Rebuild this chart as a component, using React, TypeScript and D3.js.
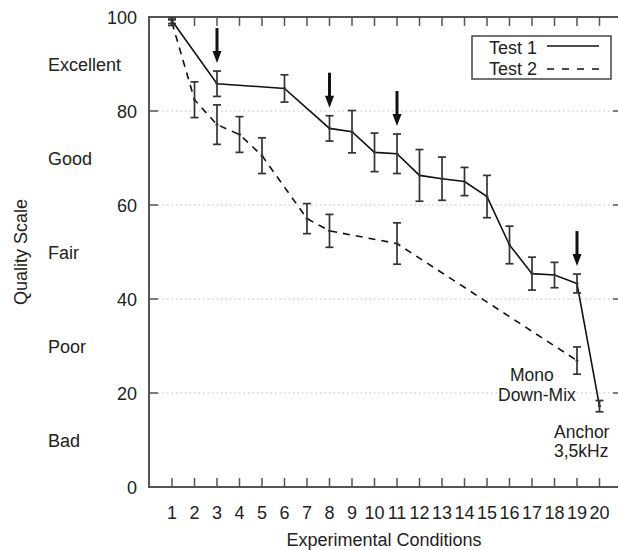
import React from "react";
import * as d3 from "d3";

// Mean quality scores with error bar half-widths per experimental condition
const test1Conditions = [1, 3, 6, 8, 9, 10, 11, 12, 13, 14, 15, 16, 17, 18, 19, 20];
const test1Means = [99.2, 85.8, 84.8, 76.3, 75.6, 71.2, 70.9, 66.3, 65.6, 65.0, 61.8, 51.5, 45.4, 45.1, 43.3, 17.2];
const test1Errors = [0.6, 2.7, 2.9, 2.7, 4.5, 4.1, 4.2, 5.5, 4.6, 3.0, 4.5, 4.0, 3.5, 2.7, 2.0, 1.2];

const test2Conditions = [1, 2, 3, 4, 5, 7, 8, 11, 19];
const test2Means = [98.8, 82.4, 77.1, 75.0, 70.5, 57.1, 54.5, 51.8, 26.9];
const test2Errors = [0.6, 3.8, 4.2, 3.8, 3.8, 3.2, 3.5, 4.4, 2.9];

// Conditions highlighted with an arrow above the Test 1 result
const arrowConditions = [3, 8, 11, 19];

const xTicks = d3.range(1, 21);
const yTicks = [0, 20, 40, 60, 80, 100];
const gridValues = [20, 40, 60, 80];
const qualityLabels = ["Excellent", "Good", "Fair", "Poor", "Bad"];
const qualityCenters = [90, 70, 50, 30, 10];

const W = 618;
const H = 550;
const left = 149;
const top = 17;
const bottom = 487;
const right = 622;

const FONT = "'Liberation Sans', Arial, Helvetica, sans-serif";

export default function App() {
  const x = d3.scaleLinear().domain([0, 21]).range([left + 0.5, right]);
  const y = d3.scaleLinear().domain([0, 100]).range([bottom, top]);

  const s1 = test1Conditions.map((c, i) => ({ c, m: test1Means[i], e: test1Errors[i] }));
  const s2 = test2Conditions.map((c, i) => ({ c, m: test2Means[i], e: test2Errors[i] }));

  const line = d3
    .line<{ c: number; m: number }>()
    .x((d) => x(d.c))
    .y((d) => y(d.m));

  const errorBars = (data: { c: number; m: number; e: number }[], key: string) =>
    data.map((d) => {
      const cx = x(d.c);
      const y0 = y(d.m + d.e);
      const y1 = y(d.m - d.e);
      return (
        <g key={key + d.c} stroke="#333" strokeWidth={1.7}>
          <line x1={cx} x2={cx} y1={y0} y2={y1} />
          <line x1={cx - 4} x2={cx + 4} y1={y0} y2={y0} />
          <line x1={cx - 4} x2={cx + 4} y1={y1} y2={y1} />
          <line x1={cx - 1.5} x2={cx + 1.5} y1={y(d.m)} y2={y(d.m)} />
        </g>
      );
    });

  return (
    <svg width={W} height={H} style={{ position: "absolute", left: 0, top: 0 }} fontFamily={FONT}>
      <rect width={W} height={H} fill="#fff" />

      {/* dotted horizontal grid */}
      {gridValues.map((v) => (
        <line
          key={"g" + v}
          x1={left}
          x2={right}
          y1={y(v)}
          y2={y(v)}
          stroke="#bbb"
          strokeWidth={1}
          strokeDasharray="1.5,3"
        />
      ))}

      {/* frame */}
      <rect x={left} y={top} width={right - left} height={bottom - top} fill="none" stroke="#555" strokeWidth={2} />

      {/* inward ticks on all four sides */}
      {xTicks.map((t) => (
        <g key={"xt" + t} stroke="#555" strokeWidth={1.5}>
          <line x1={x(t)} x2={x(t)} y1={bottom} y2={bottom - 9} />
          <line x1={x(t)} x2={x(t)} y1={top} y2={top + 9} />
        </g>
      ))}
      {yTicks.map((t) => (
        <g key={"yt" + t} stroke="#555" strokeWidth={1.5}>
          <line x1={left} x2={left + 9} y1={y(t)} y2={y(t)} />
          <line x1={right} x2={right - 9} y1={y(t)} y2={y(t)} />
        </g>
      ))}

      {/* tick labels */}
      {xTicks.map((t) => (
        <text key={"xl" + t} x={x(t)} y={519} textAnchor="middle" fontSize={18} fill="#222">
          {t}
        </text>
      ))}
      {yTicks.map((t) => (
        <text key={"yl" + t} x={137} y={y(t) + 6.5} textAnchor="end" fontSize={18} fill="#222">
          {t}
        </text>
      ))}

      {/* quality scale categories */}
      {qualityLabels.map((l, i) => (
        <text key={l} x={48} y={y(qualityCenters[i]) + 6.5} fontSize={18} fill="#222">
          {l}
        </text>
      ))}

      {/* axis titles */}
      <text
        x={27}
        y={(top + bottom) / 2}
        transform={`rotate(-90 27 ${(top + bottom) / 2})`}
        textAnchor="middle"
        fontSize={18}
        fill="#222"
      >
        Quality Scale
      </text>
      <text x={384} y={546} textAnchor="middle" fontSize={18} fill="#222">
        Experimental Conditions
      </text>

      {/* series lines */}
      <path d={line(s1) ?? ""} fill="none" stroke="#111" strokeWidth={1.6} />
      <path d={line(s2) ?? ""} fill="none" stroke="#111" strokeWidth={1.6} strokeDasharray="7,6" />

      {errorBars(s1, "a")}
      {errorBars(s2, "b")}

      {/* arrows */}
      {arrowConditions.map((c) => {
        const i = test1Conditions.indexOf(c);
        const cx = x(c);
        const tip = y(test1Means[i] + test1Errors[i]) - 8;
        return (
          <g key={"ar" + c}>
            <line x1={cx} x2={cx} y1={tip - 35} y2={tip - 10} stroke="#111" strokeWidth={3} />
            <path d={`M${cx - 4.5},${tip - 12} L${cx + 4.5},${tip - 12} L${cx},${tip} Z`} fill="#111" />
          </g>
        );
      })}

      {/* annotations */}
      <text x={x(19) - 67} y={381} fontSize={17.5} fill="#222">
        Mono
      </text>
      <text x={x(19) - 79} y={400.5} fontSize={17.5} fill="#222">
        Down-Mix
      </text>
      <text x={x(20) - 45.5} y={437.5} fontSize={17.5} fill="#222">
        Anchor
      </text>
      <text x={x(20) - 45.5} y={457} fontSize={17.5} fill="#222">
        3,5kHz
      </text>

      {/* legend */}
      <rect x={472} y={36} width={139} height={43} fill="#fff" stroke="#444" strokeWidth={1.5} />
      <text x={537} y={54} textAnchor="end" fontSize={18} fill="#222">
        Test 1
      </text>
      <text x={537} y={75} textAnchor="end" fontSize={18} fill="#222">
        Test 2
      </text>
      <line x1={547} x2={599} y1={46} y2={46} stroke="#111" strokeWidth={1.6} />
      <line x1={547} x2={599} y1={69} y2={69} stroke="#111" strokeWidth={1.6} strokeDasharray="7,8" />
    </svg>
  );
}
